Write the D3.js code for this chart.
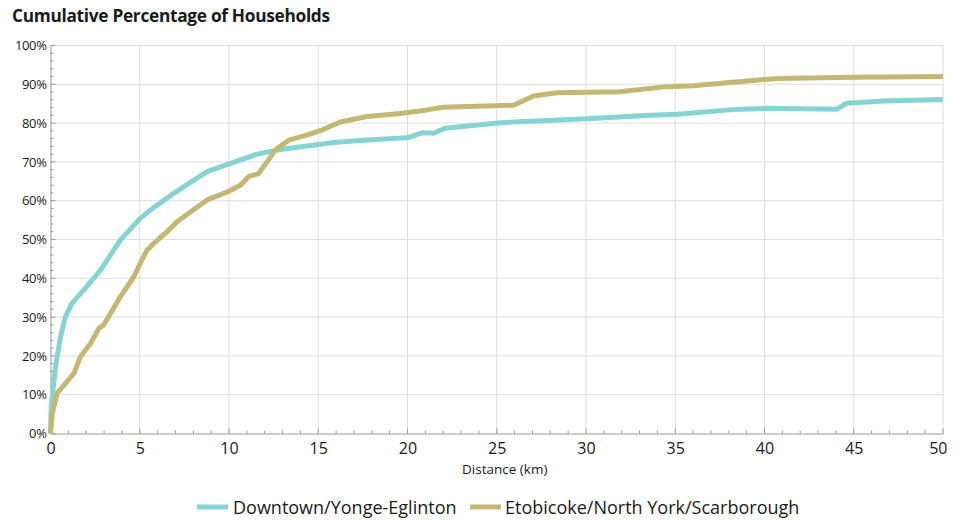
<!DOCTYPE html>
<html>
<head>
<meta charset="utf-8">
<script src="https://cdn.jsdelivr.net/npm/d3@7"></script>
<style>
  html, body { margin: 0; padding: 0; background: #fff; }
  svg { display: block; }
  text { font-family: "Open Sans", "Noto Sans", sans-serif; fill: #1a1a1a; }
</style>
</head>
<body>
<svg id="chart" width="958" height="520"></svg>
<script>
// ---- data ----
const title = "Cumulative Percentage of Households";
const xLabel = "Distance (km)";
const seriesNames = ["Downtown/Yonge-Eglinton", "Etobicoke/North York/Scarborough"];
const xTicks = [0, 5, 10, 15, 20, 25, 30, 35, 40, 45, 50];
const yTicks = [0, 10, 20, 30, 40, 50, 60, 70, 80, 90, 100];

const downtownKm = [0, 0.04, 0.28, 0.56, 0.84, 1.21, 1.87, 2.8, 3.55, 3.92, 5.04, 5.6, 6.9, 8.77, 10.08, 11.57, 12.88, 14.37, 15.86, 17.5, 19.97, 20.81, 21.46, 22.12, 25.2, 30.05, 33.6, 35.1, 38.6, 40.1, 44.05, 44.6, 46.7, 50];
const downtownPct = [0, 6.9, 17.2, 24.9, 30.1, 33.6, 37.0, 42.1, 47.3, 49.9, 55.5, 57.6, 61.9, 67.5, 69.6, 72.0, 73.2, 74.1, 75.0, 75.6, 76.2, 77.5, 77.4, 78.7, 80.1, 81.1, 82.0, 82.3, 83.6, 83.8, 83.6, 85.1, 85.7, 86.1];

const suburbsKm = [0, 0.1, 0.37, 0.84, 1.31, 1.68, 2.24, 2.71, 2.99, 3.92, 4.67, 5.04, 5.41, 5.88, 6.53, 7.09, 8.77, 9.89, 10.64, 11.1, 11.66, 12.13, 12.6, 13.34, 14.37, 15.3, 16.24, 17.73, 19.6, 21.1, 22.0, 25.94, 27.06, 28.37, 31.9, 34.5, 36.0, 39.2, 40.7, 45, 50];
const suburbsPct = [0, 5.2, 10.4, 12.9, 15.5, 19.8, 23.2, 27.1, 28.0, 35.3, 40.4, 44.0, 47.3, 49.4, 52.0, 54.6, 60.2, 62.2, 64.0, 66.2, 67.0, 70.0, 73.1, 75.6, 76.9, 78.4, 80.3, 81.7, 82.5, 83.4, 84.1, 84.6, 87.0, 87.8, 88.1, 89.4, 89.6, 90.9, 91.5, 91.8, 92.0];

const colors = ["#86d3d4", "#c2b874"];

// ---- chart ----
const svg = d3.select("#chart");
const margin = { left: 50.5, right: 15, top: 45.5, bottom: 86.5 };
const W = 958, H = 520;
const x = d3.scaleLinear().domain([0, 50]).range([margin.left, W - margin.right]);
const y = d3.scaleLinear().domain([0, 100]).range([H - margin.bottom, margin.top]);

svg.append("text")
  .attr("x", 12).attr("y", 22)
  .attr("font-size", 17.3).attr("font-weight", "bold")
  .attr("letter-spacing", -0.3)
  .text(title);

// grid
const grid = svg.append("g");
grid.selectAll("line.gx").data(xTicks.slice(1)).join("line")
  .attr("x1", d => x(d)).attr("x2", d => x(d))
  .attr("y1", y(0)).attr("y2", y(100))
  .attr("stroke", "#dddddd").attr("stroke-width", 1);
grid.selectAll("line.gy").data(yTicks.slice(1)).join("line")
  .attr("x1", x(0)).attr("x2", x(50))
  .attr("y1", d => y(d)).attr("y2", d => y(d))
  .attr("stroke", "#dddddd").attr("stroke-width", 1);

// minor ticks
const axisColor = "#999999";
const xMinor = d3.range(0, 51, 1);
const yMinor = d3.range(0, 101, 2);
svg.append("g").selectAll("line").data(xMinor).join("line")
  .attr("x1", d => x(d)).attr("x2", d => x(d))
  .attr("y1", y(0)).attr("y2", d => y(0) - (d % 5 === 0 ? 5 : 3))
  .attr("stroke", axisColor).attr("stroke-width", 1);
svg.append("g").selectAll("line").data(yMinor).join("line")
  .attr("y1", d => y(d)).attr("y2", d => y(d))
  .attr("x1", x(0)).attr("x2", d => x(0) + (d % 10 === 0 ? 5 : 3))
  .attr("stroke", axisColor).attr("stroke-width", 1);

// axes
const xAxis = svg.append("g")
  .attr("transform", `translate(0,${y(0)})`)
  .call(d3.axisBottom(x).tickValues(xTicks).tickSize(0).tickPadding(9).tickFormat(d3.format("d")));
xAxis.select(".domain").attr("stroke", axisColor);
xAxis.selectAll("text").attr("font-size", 16).attr("fill", "#1a1a1a")
  .attr("font-family", "'Open Sans', sans-serif")
  .attr("text-anchor", d => d === 50 ? "end" : "middle")
  .attr("dx", d => d === 50 ? 4 : 0);

const yAxis = svg.append("g")
  .attr("transform", `translate(${x(0)},0)`)
  .call(d3.axisLeft(y).tickValues(yTicks).tickSize(0).tickPadding(4).tickFormat(d => d + "%"));
yAxis.select(".domain").attr("stroke", axisColor);
yAxis.selectAll("text").attr("font-size", 13).attr("fill", "#1a1a1a")
  .attr("font-family", "'Open Sans', sans-serif").attr("letter-spacing", -0.4);

svg.append("text")
  .attr("x", (x(0) + x(50)) / 2 + 8).attr("y", 474)
  .attr("text-anchor", "middle").attr("font-size", 13.5)
  .text(xLabel);

// lines
const line = d3.line().x(d => x(d[0])).y(d => y(d[1])).curve(d3.curveLinear);
const seriesData = [
  d3.zip(downtownKm, downtownPct),
  d3.zip(suburbsKm, suburbsPct)
];
svg.append("g").selectAll("path").data(seriesData).join("path")
  .attr("d", line)
  .attr("fill", "none")
  .attr("stroke", (d, i) => colors[i])
  .attr("stroke-width", 5)
  .attr("stroke-linejoin", "round");

// legend
const legend = svg.append("g");
const legendItems = [
  { sx: 197, tx: 233 },
  { sx: 470, tx: 505 }
];
seriesNames.forEach((name, i) => {
  legend.append("line")
    .attr("x1", legendItems[i].sx).attr("x2", legendItems[i].sx + 31)
    .attr("y1", 507).attr("y2", 507)
    .attr("stroke", colors[i]).attr("stroke-width", 5);
  legend.append("text")
    .attr("x", legendItems[i].tx).attr("y", 513.5)
    .attr("font-size", 18)
    .text(name);
});
</script>
</body>
</html>
